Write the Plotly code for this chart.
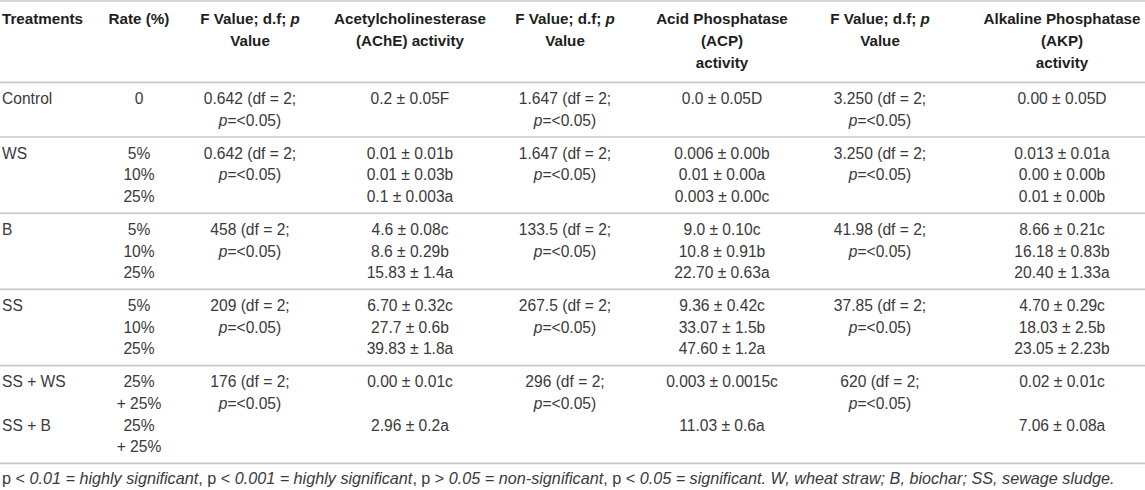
import plotly.graph_objects as go

# ---------------- data ----------------
headers = [
    ["Treatments"],
    ["Rate (%)"],
    ["F Value; d.f; <i>p</i>", "Value"],
    ["Acetylcholinesterase", "(AChE) activity"],
    ["F Value; d.f; <i>p</i>", "Value"],
    ["Acid Phosphatase", "(ACP)", "activity"],
    ["F Value; d.f; <i>p</i>", "Value"],
    ["Alkaline Phosphatase", "(AKP)", "activity"],
]

treatments = [["Control"], ["WS"], ["B"], ["SS"], ["SS + WS", "", "SS + B"]]
rates = [["0"], ["5%", "10%", "25%"], ["5%", "10%", "25%"], ["5%", "10%", "25%"],
         ["25%", "+ 25%", "25%", "+ 25%"]]
f_ache = ["0.642", "0.642", "458", "209", "176"]
f_acp = ["1.647", "1.647", "133.5", "267.5", "296"]
f_akp = ["3.250", "3.250", "41.98", "37.85", "620"]
df_value = 2
p_text = "&lt;0.05"
ache = [["0.2 ± 0.05F"],
        ["0.01 ± 0.01b", "0.01 ± 0.03b", "0.1 ± 0.003a"],
        ["4.6 ± 0.08c", "8.6 ± 0.29b", "15.83 ± 1.4a"],
        ["6.70 ± 0.32c", "27.7 ± 0.6b", "39.83 ± 1.8a"],
        ["0.00 ± 0.01c", "", "2.96 ± 0.2a", ""]]
acp = [["0.0 ± 0.05D"],
       ["0.006 ± 0.00b", "0.01 ± 0.00a", "0.003 ± 0.00c"],
       ["9.0 ± 0.10c", "10.8 ± 0.91b", "22.70 ± 0.63a"],
       ["9.36 ± 0.42c", "33.07 ± 1.5b", "47.60 ± 1.2a"],
       ["0.003 ± 0.0015c", "", "11.03 ± 0.6a", ""]]
akp = [["0.00 ± 0.05D"],
       ["0.013 ± 0.01a", "0.00 ± 0.00b", "0.01 ± 0.00b"],
       ["8.66 ± 0.21c", "16.18 ± 0.83b", "20.40 ± 1.33a"],
       ["4.70 ± 0.29c", "18.03 ± 2.5b", "23.05 ± 2.23b"],
       ["0.02 ± 0.01c", "", "7.06 ± 0.08a", ""]]

footnote = ("p &lt; <i>0.01 = highly significant</i>, p &lt; <i>0.001 = highly significant</i>, "
            "p &gt; <i>0.05 = non-significant</i>, p &lt; <i>0.05 = significant. "
            "W, wheat straw; B, biochar; SS, sewage sludge.</i>")

# ---------------- layout / style ----------------
W, H = 1145, 490
col_x = [2, 139, 250, 410, 565, 722, 880, 1062]
line_h = 21.6
top_line = 1
head_pad_top, head_pad_bot = 19.7, 18.5
row_pad_top, row_pad_bot = 18.0, 15.0
FONT = "Liberation Sans"
body_color = "#3a3a3a"
head_color = "#1e1e1e"
rule_color = "#c8c8c8"
body_size, head_size, foot_size = 15.6, 15.2, 16.2


def fcell(v):
    return [f"{v} (df = {df_value};", f"<i>p</i>={p_text})"]


body_cols = [treatments, rates,
             [fcell(v) for v in f_ache], ache,
             [fcell(v) for v in f_acp], acp,
             [fcell(v) for v in f_akp], akp]

# compute y positions
rules = [top_line]
head_y = []
y = top_line + head_pad_top
n_head = max(len(h) for h in headers)
for i in range(n_head):
    head_y.append(y + i * line_h)
y_end = head_y[-1] + head_pad_bot
rules.append(y_end)

group_lines = []
cur = y_end
for g in range(len(treatments)):
    n = max(len(col[g]) for col in body_cols)
    ys = [cur + row_pad_top + i * line_h for i in range(n)]
    group_lines.append(ys)
    cur = ys[-1] + row_pad_bot
    rules.append(cur)

fig = go.Figure()

for c, hdr in enumerate(headers):
    xs, ys, ts = [], [], []
    for i, t in enumerate(hdr):
        xs.append(col_x[c]); ys.append(head_y[i]); ts.append(t)
    fig.add_trace(go.Scatter(
        x=xs, y=ys, text=ts, mode="text",
        textposition="middle right" if c == 0 else "middle center",
        textfont=dict(family=FONT, size=head_size, color=head_color, weight="bold"),
        hoverinfo="skip", showlegend=False, cliponaxis=False))

for c, col in enumerate(body_cols):
    xs, ys, ts = [], [], []
    for g, cell in enumerate(col):
        for i, t in enumerate(cell):
            if t == "":
                continue
            xs.append(col_x[c]); ys.append(group_lines[g][i]); ts.append(t)
    fig.add_trace(go.Scatter(
        x=xs, y=ys, text=ts, mode="text",
        textposition="middle right" if c == 0 else "middle center",
        textfont=dict(family=FONT, size=body_size, color=body_color),
        hoverinfo="skip", showlegend=False, cliponaxis=False))

for r in rules:
    fig.add_shape(type="line", xref="x", yref="y", x0=0, x1=W, y0=r, y1=r,
                  line=dict(color=rule_color, width=1.6))

fig.add_trace(go.Scatter(
    x=[col_x[0]], y=[rules[-1] + 16.5], text=[footnote], mode="text",
    textposition="middle right",
    textfont=dict(family=FONT, size=foot_size, color=body_color),
    hoverinfo="skip", showlegend=False, cliponaxis=False))

fig.update_layout(
    width=W, height=H, margin=dict(l=0, r=0, t=0, b=0),
    paper_bgcolor="white", plot_bgcolor="white",
    xaxis=dict(range=[0, W], visible=False, fixedrange=True),
    yaxis=dict(range=[H, 0], visible=False, fixedrange=True),
)

fig.write_html("out.html", config={"displayModeBar": False},
               post_script="document.body.style.margin='0';document.body.style.overflow='hidden';")
